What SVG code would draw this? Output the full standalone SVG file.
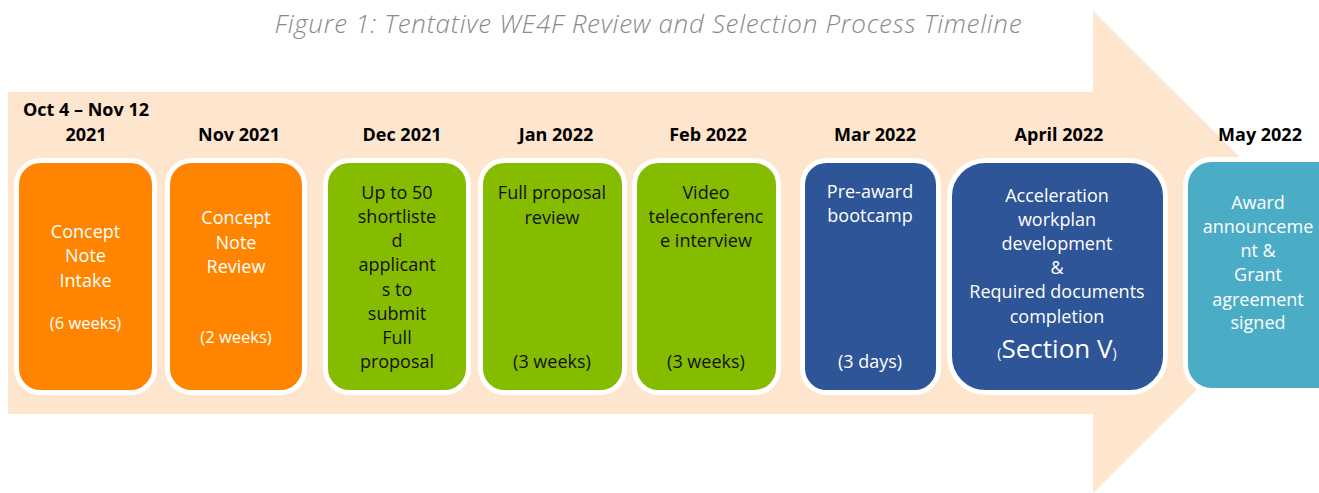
<svg xmlns="http://www.w3.org/2000/svg" width="1319" height="493" viewBox="0 0 1319 493">
<style>
.title{font-family:"Open Sans","Liberation Sans",sans-serif;font-style:italic;font-weight:300;font-size:26px;fill:#8a8a8a}
.date{font-family:"Open Sans","Liberation Sans",sans-serif;font-weight:700;font-size:18px;fill:#000;text-anchor:middle}
.box{stroke:#fff;stroke-width:5}
.t{font-family:"Open Sans","Liberation Sans",sans-serif;font-size:18px;text-anchor:middle}
.s{font-size:16.5px}
.w{fill:#fff}
.k{fill:#111}
.or{fill:#FF8500}
.gr{fill:#86BC00}
.bl{fill:#2D5597}
.tl{fill:#4BACC6}
</style>
<rect width="1319" height="493" fill="#fff"/>
<text class="title" x="648" y="33" text-anchor="middle" textLength="747" lengthAdjust="spacing">Figure 1: Tentative WE4F Review and Selection Process Timeline</text>
<polygon id="arrow" points="8,92 1093,92 1093,11 1335,252 1093,493 1093,414 8,414" fill="#FEE5CD"/>
<g id="dates">
<text class="date" x="86" y="116">Oct 4 – Nov 12</text>
<text class="date" x="86" y="141">2021</text>
<text class="date" x="239" y="141">Nov 2021</text>
<text class="date" x="402" y="141">Dec 2021</text>
<text class="date" x="556" y="141">Jan 2022</text>
<text class="date" x="708" y="141">Feb 2022</text>
<text class="date" x="875" y="141">Mar 2022</text>
<text class="date" x="1059" y="141">April 2022</text>
<text class="date" x="1260" y="141">May 2022</text>
</g>
<g id="n1">
<rect class="box or" x="16.5" y="160.5" width="138" height="232" rx="24"/>
<text class="t w" x="85.5"><tspan x="85.5" y="238">Concept</tspan><tspan x="85.5" y="262">Note</tspan><tspan x="85.5" y="287">Intake</tspan><tspan class="s" x="85.5" y="329">(6 weeks)</tspan></text>
</g>
<g id="n2">
<rect class="box or" x="167.5" y="160.5" width="137" height="232" rx="24"/>
<text class="t w" x="236"><tspan x="236" y="224">Concept</tspan><tspan x="236" y="249">Note</tspan><tspan x="236" y="273">Review</tspan><tspan class="s" x="236" y="343">(2 weeks)</tspan></text>
</g>
<g id="n3">
<rect class="box gr" x="325.5" y="160.5" width="143" height="232" rx="24"/>
<text class="t k" x="397"><tspan x="397" y="199">Up to 50</tspan><tspan x="397" y="223">shortliste</tspan><tspan x="397" y="247">d</tspan><tspan x="397" y="271">applicant</tspan><tspan x="397" y="296">s to</tspan><tspan x="397" y="320">submit</tspan><tspan x="397" y="344">Full</tspan><tspan x="397" y="368">proposal</tspan></text>
</g>
<g id="n4">
<rect class="box gr" x="480.5" y="160.5" width="144" height="232" rx="24"/>
<text class="t k" x="552"><tspan x="552" y="199">Full proposal</tspan><tspan x="552" y="224">review</tspan><tspan x="552" y="368">(3 weeks)</tspan></text>
</g>
<g id="n5">
<rect class="box gr" x="634.5" y="160.5" width="144" height="232" rx="24"/>
<text class="t k" x="706"><tspan x="706" y="199">Video</tspan><tspan x="706" y="223">teleconferenc</tspan><tspan x="706" y="247">e interview</tspan><tspan x="706" y="368">(3 weeks)</tspan></text>
</g>
<g id="n6">
<rect class="box bl" x="802.5" y="160.5" width="136" height="232" rx="24"/>
<text class="t w" x="870"><tspan x="870" y="198">Pre-award</tspan><tspan x="870" y="222">bootcamp</tspan><tspan x="870" y="368">(3 days)</tspan></text>
</g>
<g id="n7">
<rect class="box bl" x="949.5" y="160.5" width="216" height="232" rx="36"/>
<text class="t w" x="1057"><tspan x="1057" y="202">Acceleration</tspan><tspan x="1057" y="226">workplan</tspan><tspan x="1057" y="250">development</tspan><tspan x="1057" y="274">&amp;</tspan><tspan x="1057" y="298">Required documents</tspan><tspan x="1057" y="323">completion</tspan></text>
<text class="t w" x="1057" y="358"><tspan font-size="14">(</tspan><tspan font-size="26">Section V</tspan><tspan font-size="14">)</tspan></text>
</g>
<g id="n8">
<rect class="box tl" x="1185.5" y="159.5" width="160" height="231" rx="26"/>
<text class="t w" x="1258"><tspan x="1258" y="209">Award</tspan><tspan x="1258" y="233">announceme</tspan><tspan x="1258" y="257">nt &amp;</tspan><tspan x="1258" y="281">Grant</tspan><tspan x="1258" y="306">agreement</tspan><tspan x="1258" y="329">signed</tspan></text>
</g>
<g id="connectors"/>
</svg>
